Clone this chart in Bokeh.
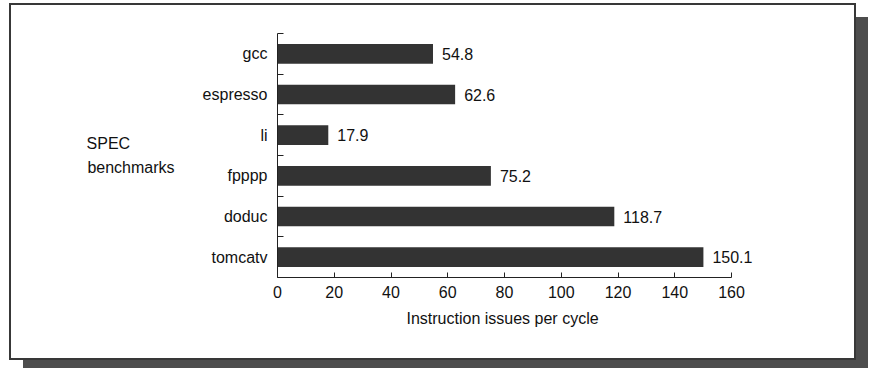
from bokeh.plotting import figure
from bokeh.models import Range1d, FixedTicker, ColumnDataSource, LabelSet, Title
from bokeh.core.properties import value
from bokeh.embed import file_html
from bokeh.resources import INLINE

# ---- data ----
benchmarks = ["gcc", "espresso", "li", "fpppp", "doduc", "tomcatv"]
issues = [54.8, 62.6, 17.9, 75.2, 118.7, 150.1]
x_ticks = [0, 20, 40, 60, 80, 100, 120, 140, 160]
x_title = "Instruction issues per cycle"
y_title = ["SPEC", "benchmarks"]

FONT = "Liberation Sans"
n = len(benchmarks)
ypos = [n - i - 0.5 for i in range(n)]

src = ColumnDataSource(dict(
    y=ypos,
    v=issues,
    lab=[f"{v:.1f}" for v in issues],
))

# layout (pixels)
W, H = 843, 353
BL, BT, BB = 266, 28, 81
AXIS_PX = 454            # pixel length of the 0..160 x axis
frame_w = W - BL
x_max = x_ticks[-1] * frame_w / AXIS_PX

p = figure(
    width=W, height=H,
    min_border_left=BL, min_border_right=0,
    min_border_top=BT, min_border_bottom=BB,
    x_range=Range1d(0, x_max), y_range=Range1d(0, n),
    output_backend="svg", toolbar_location=None,
)
p.margin = (5, 0, 0, 11)
p.styles = {"box-shadow": "0 0 0 2px #383838, 13px 13px 0 1px #4d4d4d"}
p.outline_line_color = None
p.background_fill_color = "white"
p.border_fill_color = "white"
p.grid.visible = False

p.hbar(y="y", right="v", left=0, height=0.485, source=src,
       fill_color="#333333", line_color=None)

labels = LabelSet(x="v", y="y", text="lab", source=src, x_offset=9,
                  text_baseline="middle", text_align="left",
                  text_font=value(FONT), text_font_size="16px", text_color="#111111")
p.add_layout(labels)

# x axis
xa = p.xaxis[0]
xa.ticker = FixedTicker(ticks=x_ticks, minor_ticks=[])
xa.bounds = (x_ticks[0], x_ticks[-1])
xa.major_label_text_font = FONT
xa.major_label_text_font_size = "16px"
xa.major_label_text_color = "#111111"
xa.major_label_standoff = 8
xa.major_tick_in = 5
xa.major_tick_out = 0
xa.minor_tick_line_color = None
xa.axis_line_color = "#222222"
xa.major_tick_line_color = "#222222"

# x axis title, centred under the 0..160 span
xt = Title(text=x_title, align="left", offset=129,
           text_font=FONT, text_font_size="16px", text_font_style="normal",
           text_color="#111111", standoff=14)
p.add_layout(xt, "below")

# y axis
ya = p.yaxis[0]
ya.ticker = FixedTicker(ticks=ypos, minor_ticks=list(range(n + 1)))
ya.major_label_overrides = {y: b for y, b in zip(ypos, benchmarks)}
ya.major_label_text_font = FONT
ya.major_label_text_font_size = "16px"
ya.major_label_text_color = "#111111"
ya.major_label_standoff = 10
ya.major_tick_in = 0
ya.major_tick_out = 0
ya.major_tick_line_color = None
ya.minor_tick_in = 6
ya.minor_tick_out = 0
ya.minor_tick_line_color = "#222222"
ya.axis_line_color = "#222222"

# side title: two lines, left aligned (first line padded with no-break spaces)
pad = "\u00a0" * 10
ya.axis_label = y_title[0] + pad + "\n" + y_title[1]
ya.axis_label_orientation = "horizontal"
ya.axis_label_text_font = FONT
ya.axis_label_text_font_size = "16px"
ya.axis_label_text_font_style = "normal"
ya.axis_label_text_color = "#111111"
ya.axis_label_text_line_height = 1.45
ya.axis_label_standoff = 25

open("out.html", "w").write(file_html(p, INLINE))
